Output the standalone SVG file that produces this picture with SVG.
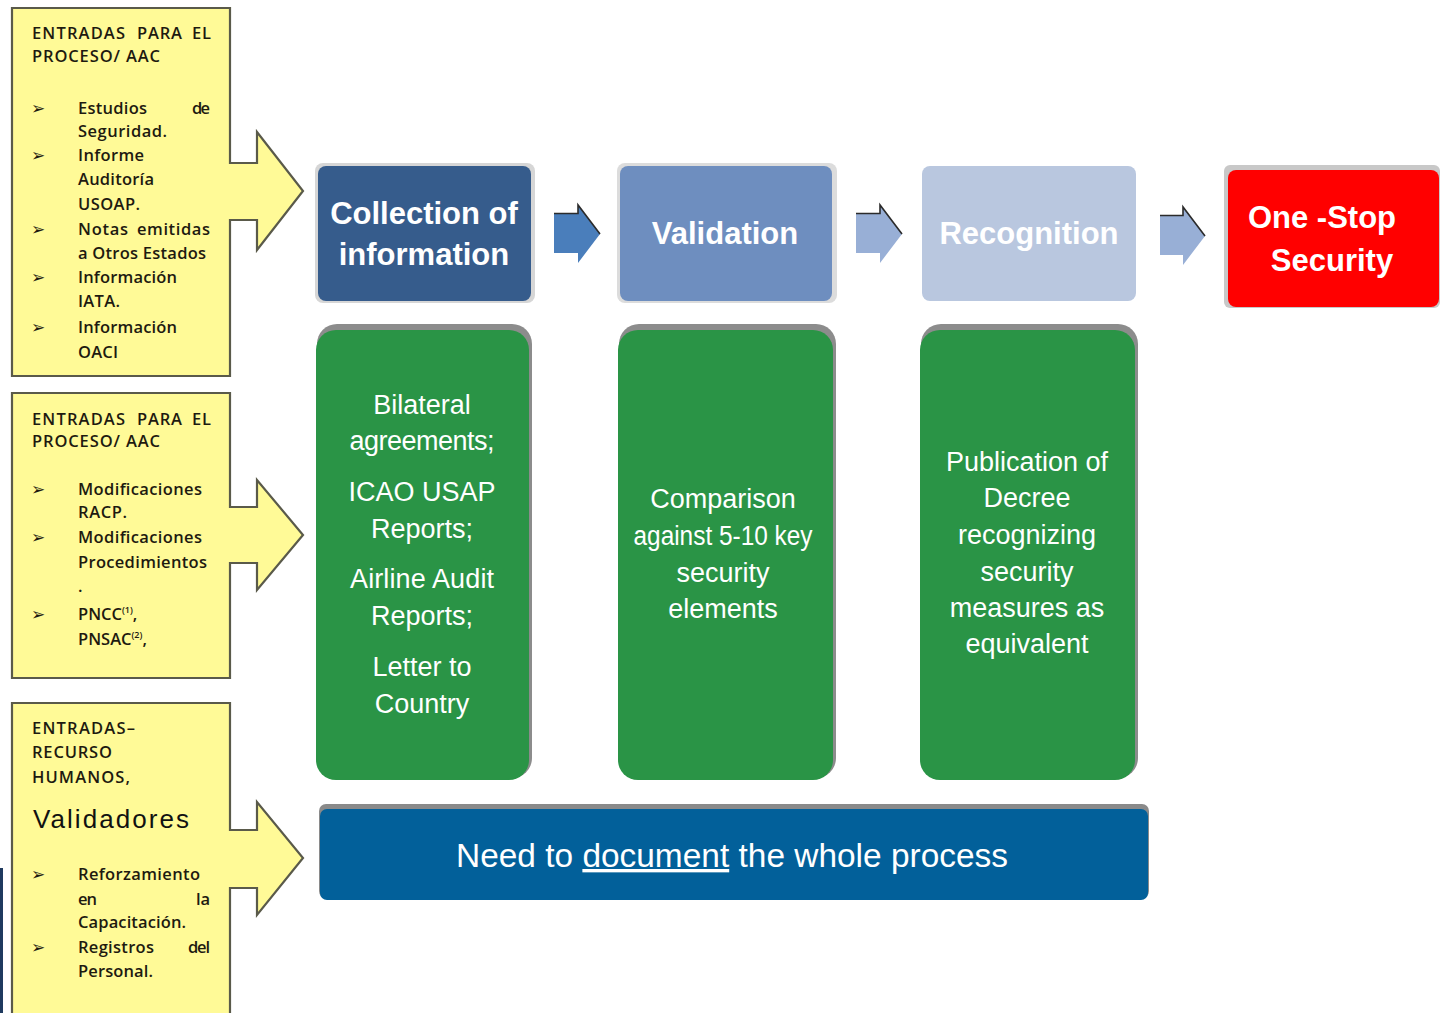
<svg xmlns="http://www.w3.org/2000/svg" width="1447" height="1013" viewBox="0 0 1447 1013">
<style>
.callout{fill:#FFFA97;stroke:#5a5a4a;stroke-width:2.2}
.ct{font-family:"Open Sans","Liberation Sans",sans-serif;font-weight:600;font-size:16.5px;fill:#1e1a10}
.cb{font-family:"DejaVu Sans",sans-serif;font-size:17px;fill:#1e1a10}
.top{font-family:"Liberation Sans",Arial,sans-serif;font-weight:bold;font-size:31px;fill:#ffffff;text-anchor:middle}
.gt{font-family:"Liberation Sans",Arial,sans-serif;font-size:27px;fill:#ffffff;text-anchor:middle}
.shadow{fill:#8c8c8c}
.green{fill:#2A9446}
.edge{fill:none;stroke:#2b2b2b;stroke-width:1.6}
</style>
<rect x="0" y="868" width="3" height="145" fill="#1F3A5F"/>

<g id="callout1">
<path class="callout" d="M12,8 H230 V163 H257 V132 L303,191 L257,250 V220 H230 V376 H12 Z"/>
<text class="ct" x="32" y="39" font-weight="bold" textLength="93">ENTRADAS</text>
<text class="ct" x="137" y="39" font-weight="bold" textLength="45">PARA</text>
<text class="ct" x="192" y="39" font-weight="bold" textLength="19">EL</text>
<text class="ct" x="32" y="62" font-weight="bold" textLength="128">PROCESO/ AAC</text>
<text class="cb" x="31" y="114">➢</text>
<text class="ct" x="78" y="114" textLength="69">Estudios</text>
<text class="ct" x="192" y="114" textLength="18">de</text>
<text class="ct" x="78" y="137" textLength="89">Seguridad.</text>
<text class="cb" x="31" y="161">➢</text>
<text class="ct" x="78" y="161" textLength="66">Informe</text>
<text class="ct" x="78" y="185" textLength="76">Auditoría</text>
<text class="ct" x="78" y="210" textLength="62">USOAP.</text>
<text class="cb" x="31" y="235">➢</text>
<text class="ct" x="78" y="235" textLength="50">Notas</text>
<text class="ct" x="137" y="235" textLength="73">emitidas</text>
<text class="ct" x="78" y="259" textLength="128">a Otros Estados</text>
<text class="cb" x="31" y="283">➢</text>
<text class="ct" x="78" y="283" textLength="99">Información</text>
<text class="ct" x="78" y="307" textLength="42">IATA.</text>
<text class="cb" x="31" y="333">➢</text>
<text class="ct" x="78" y="333" textLength="99">Información</text>
<text class="ct" x="78" y="358" textLength="40">OACI</text>
</g>

<g id="callout2">
<path class="callout" d="M12,393 H230 V507 H257 V480 L303,535 L257,590 V563 H230 V678 H12 Z"/>
<text class="ct" x="32" y="425" font-weight="bold" textLength="93">ENTRADAS</text>
<text class="ct" x="137" y="425" font-weight="bold" textLength="45">PARA</text>
<text class="ct" x="192" y="425" font-weight="bold" textLength="19">EL</text>
<text class="ct" x="32" y="447" font-weight="bold" textLength="128">PROCESO/ AAC</text>
<text class="cb" x="31" y="495">➢</text>
<text class="ct" x="78" y="495" textLength="124">Modificaciones</text>
<text class="ct" x="78" y="518" textLength="49">RACP.</text>
<text class="cb" x="31" y="543">➢</text>
<text class="ct" x="78" y="543" textLength="124">Modificaciones</text>
<text class="ct" x="78" y="568" textLength="129">Procedimientos</text>
<text class="ct" x="78" y="592">.</text>
<text class="cb" x="31" y="620">➢</text>
<text class="ct" x="78" y="620">PNCC<tspan font-size="9" dy="-7">(1)</tspan><tspan dy="7">,</tspan></text>
<text class="ct" x="78" y="645">PNSAC<tspan font-size="9" dy="-7">(2)</tspan><tspan dy="7">,</tspan></text>
</g>

<g id="callout3">
<path class="callout" d="M12,703 H230 V830 H257 V802 L303,858 L257,915 V888 H230 V1020 H12 Z"/>
<text class="ct" x="32" y="734" font-weight="bold" textLength="103">ENTRADAS–</text>
<text class="ct" x="32" y="758" font-weight="bold" textLength="80">RECURSO</text>
<text class="ct" x="32" y="783" font-weight="bold" textLength="98">HUMANOS,</text>
<text x="33" y="828" font-family="Liberation Sans, Arial, sans-serif" font-size="26" fill="#111" textLength="156">Validadores</text>
<text class="cb" x="31" y="880">➢</text>
<text class="ct" x="78" y="880" textLength="122">Reforzamiento</text>
<text class="ct" x="78" y="905" textLength="19">en</text>
<text class="ct" x="196" y="905" textLength="14">la</text>
<text class="ct" x="78" y="928" textLength="108">Capacitación.</text>
<text class="cb" x="31" y="953">➢</text>
<text class="ct" x="78" y="953" textLength="76">Registros</text>
<text class="ct" x="188" y="953" textLength="22">del</text>
<text class="ct" x="78" y="977" textLength="75">Personal.</text>
</g>

<g id="collection">
<rect x="315" y="163" width="220" height="140" rx="8" fill="#d6d6d6"/>
<rect x="318" y="166" width="213" height="135" rx="8" fill="#365C8C"/>
<text class="top" x="424" y="224">Collection of</text>
<text class="top" x="424" y="265">information</text>
</g>

<g id="validation">
<rect x="617" y="163" width="220" height="140" rx="8" fill="#dcdcdc"/>
<rect x="620" y="166" width="212" height="135" rx="8" fill="#6E8EBF"/>
<text class="top" x="725" y="244">Validation</text>
</g>

<g id="recognition">
<rect x="922" y="166" width="214" height="135" rx="8" fill="#B9C7DF"/>
<text class="top" x="1029" y="244">Recognition</text>
</g>

<g id="onestop">
<rect x="1224" y="165" width="216" height="143" rx="6" fill="#c8c8c8"/>
<rect x="1228" y="170" width="211" height="137" rx="8" fill="#FF0000"/>
<text class="top" x="1322" y="228">One -Stop</text>
<text class="top" x="1332" y="271">Security</text>
</g>

<g id="green1">
<rect class="shadow" x="317" y="324" width="215" height="454" rx="20"/>
<rect class="green" x="316" y="330" width="213" height="450" rx="20"/>
<text class="gt" x="422" y="414">Bilateral</text>
<text class="gt" x="422" y="450" textLength="145">agreements;</text>
<text class="gt" x="422" y="501">ICAO USAP</text>
<text class="gt" x="422" y="538">Reports;</text>
<text class="gt" x="422" y="588" textLength="144">Airline Audit</text>
<text class="gt" x="422" y="625">Reports;</text>
<text class="gt" x="422" y="676">Letter to</text>
<text class="gt" x="422" y="713">Country</text>
</g>

<g id="green2">
<rect class="shadow" x="619" y="324" width="217" height="454" rx="20"/>
<rect class="green" x="618" y="330" width="215" height="450" rx="20"/>
<text class="gt" x="723" y="508">Comparison</text>
<text class="gt" x="723" y="545" textLength="179" lengthAdjust="spacingAndGlyphs">against 5-10 key</text>
<text class="gt" x="723" y="582">security</text>
<text class="gt" x="723" y="618">elements</text>
</g>

<g id="green3">
<rect class="shadow" x="921" y="324" width="217" height="454" rx="20"/>
<rect class="green" x="920" y="330" width="215" height="450" rx="20"/>
<text class="gt" x="1027" y="471">Publication of</text>
<text class="gt" x="1027" y="507">Decree</text>
<text class="gt" x="1027" y="544">recognizing</text>
<text class="gt" x="1027" y="581">security</text>
<text class="gt" x="1027" y="617">measures as</text>
<text class="gt" x="1027" y="653">equivalent</text>
</g>

<g id="document">
<rect x="319" y="804" width="830" height="94" rx="7" fill="#8a8a8a"/>
<rect x="320" y="809" width="828" height="91" rx="7" fill="#02609A"/>
<text x="732" y="867" font-family="Liberation Sans, Arial, sans-serif" font-size="33.5" fill="#ffffff" text-anchor="middle" textLength="552" lengthAdjust="spacingAndGlyphs">Need to <tspan text-decoration="underline">document</tspan> the whole process</text>
</g>

<g id="connectors">
<path d="M554,214 H578 V205 L600,234 L578,263 V253 H554 Z" fill="#4A7EBB"/>
<polyline class="edge" points="554,213.5 578,213.5 578,205 600,234"/>
<path d="M856,214 H880 V205 L902,234 L880,263 V253 H856 Z" fill="#98AFD6"/>
<polyline class="edge" points="856,213.5 880,213.5 880,205 902,234"/>
<path d="M1160,216 H1183 V207 L1205,236 L1183,265 V255 H1160 Z" fill="#98AFD6"/>
<polyline class="edge" points="1160,215.5 1183,215.5 1183,207 1205,236"/>
</g>
</svg>
